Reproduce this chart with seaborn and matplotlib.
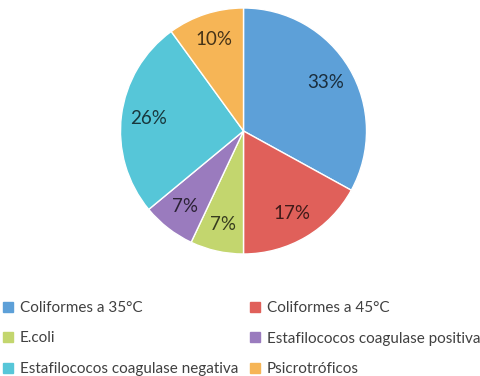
import matplotlib
matplotlib.use("Agg")
import matplotlib.pyplot as plt
from matplotlib.lines import Line2D
import seaborn as sns
import numpy as np

categories = ["Coliformes a 35°C", "Coliformes a 45°C", "E.coli",
              "Estafilococos coagulase positiva", "Estafilococos coagulase negativa",
              "Psicrotróficos"]
values = [33, 17, 7, 7, 26, 10]
colors = ["#5DA0D8", "#E0605A", "#C3D66E", "#9A7BBE", "#56C6D8", "#F6B556"]

sns.set_theme(style="white")
plt.rcParams['font.family'] = ['Lato', 'DejaVu Sans']

fig = plt.figure(figsize=(4.81, 3.76), dpi=100)
W, H = 481, 376
cx, cy, r = 243.5, 131, 123
ax = fig.add_axes([(cx - r) / W, (H - cy - r) / H, 2 * r / W, 2 * r / H])

def darken(c, f=0.72):
    rgb = np.array(matplotlib.colors.to_rgb(c))
    return tuple(rgb * (1 - f))

wedges, texts, autotexts = ax.pie(values, colors=colors, startangle=90, counterclock=False,
                                  autopct=lambda p: f"{p:.0f}%", pctdistance=0.78,
                                  wedgeprops=dict(edgecolor="white", linewidth=1.0))
for t, c in zip(autotexts, colors):
    t.set_fontsize(13.5)
    t.set_color(darken(c))
ax.set_xlim(-1, 1)
ax.set_ylim(-1, 1)
ax.set_aspect("equal")
ax.axis("off")

def handle(c):
    return Line2D([], [], marker="s", ls="", markersize=6.5, markerfacecolor=c,
                  markeredgecolor=c)

left = [0, 2, 4]
right = [1, 3, 5]
for idx, x0 in ((left, 3), (right, 250)):
    leg = fig.legend([handle(colors[i]) for i in idx], [categories[i] for i in idx],
                     loc="upper left", bbox_to_anchor=(x0 / W, (H - 301) / H),
                     frameon=False, fontsize=11, handlelength=0.7, handletextpad=0.4,
                     labelspacing=1.08, borderaxespad=0, borderpad=0)
    for t in leg.get_texts():
        t.set_color("#404040")

fig.savefig("out.png", dpi=100)
